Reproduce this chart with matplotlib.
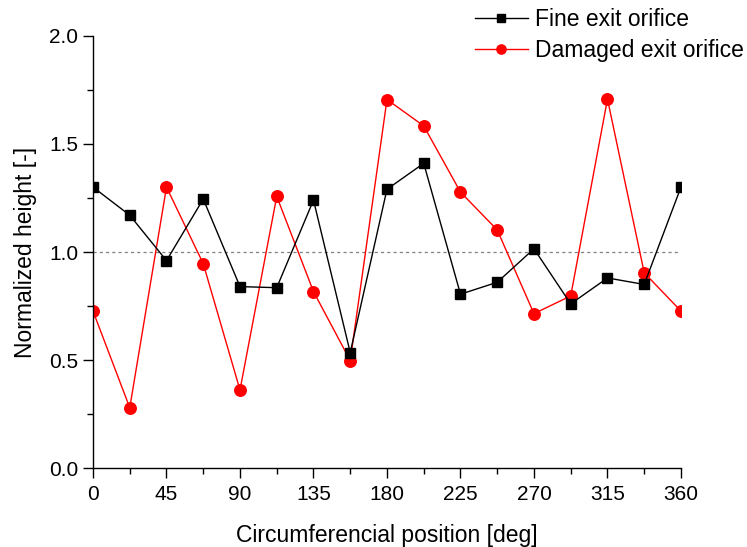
import matplotlib.pyplot as plt
import numpy as np

plt.rcParams['font.family'] = ['Liberation Sans', 'DejaVu Sans']

position = [0, 22.5, 45, 67.5, 90, 112.5, 135, 157.5, 180,
            202.5, 225, 247.5, 270, 292.5, 315, 337.5, 360]
fine = [1.30, 1.17, 0.96, 1.245, 0.84, 0.835, 1.24, 0.535, 1.29,
        1.41, 0.805, 0.86, 1.015, 0.76, 0.88, 0.85, 1.30]
damaged = [0.727, 0.28, 1.30, 0.946, 0.362, 1.257, 0.817, 0.498, 1.705,
           1.583, 1.277, 1.102, 0.715, 0.797, 1.707, 0.904, 0.727]
xticks = [0, 45, 90, 135, 180, 225, 270, 315, 360]
yticks = [0.0, 0.5, 1.0, 1.5, 2.0]

fig = plt.figure(figsize=(7.47, 5.47), dpi=100)
ax = fig.add_axes([0.1245, 0.1439, 0.7871, 0.7908])

ax.axhline(1.0, color='gray', lw=0.9, ls=(0, (2.5, 2.5)), zorder=1)
ax.plot(position, fine, color='black', lw=1.0, marker='s', ms=7.5,
        label='Fine exit orifice', zorder=3)
ax.plot(position, damaged, color='red', lw=1.0, marker='o', ms=8.3,
        label='Damaged exit orifice', zorder=2)

ax.set_xlim(0, 360)
ax.set_ylim(0, 2.0)
ax.set_xticks(xticks)
ax.set_xticks(np.arange(22.5, 360, 45), minor=True)
ax.set_yticks(yticks)
ax.set_yticks([0.25, 0.75, 1.25, 1.75], minor=True)
ax.set_yticklabels(['%.1f' % v for v in yticks])

for s in ['top', 'right']:
    ax.spines[s].set_visible(False)
for s in ['left', 'bottom']:
    ax.spines[s].set_linewidth(1.0)
ax.tick_params(which='major', length=7, width=1.0, labelsize=15, direction='out')
ax.tick_params(axis='x', which='major', pad=5)
ax.tick_params(which='minor', length=4, width=1.0, direction='out')
ax.set_xlabel('Circumferencial position [deg]', fontsize=16.5)
ax.set_ylabel('Normalized height [-]', fontsize=16.5)
ax.xaxis.set_label_coords(0.5, -0.128)
ax.yaxis.set_label_coords(-0.095, 0.5)

fig.legend(loc='upper left', bbox_to_anchor=(0.636, 0.985), frameon=False,
           fontsize=16.5, handlelength=2.3, handletextpad=0.3, labelspacing=0.35,
           borderpad=0, borderaxespad=0, markerscale=0.8)

fig.savefig('out.png', dpi=100)
